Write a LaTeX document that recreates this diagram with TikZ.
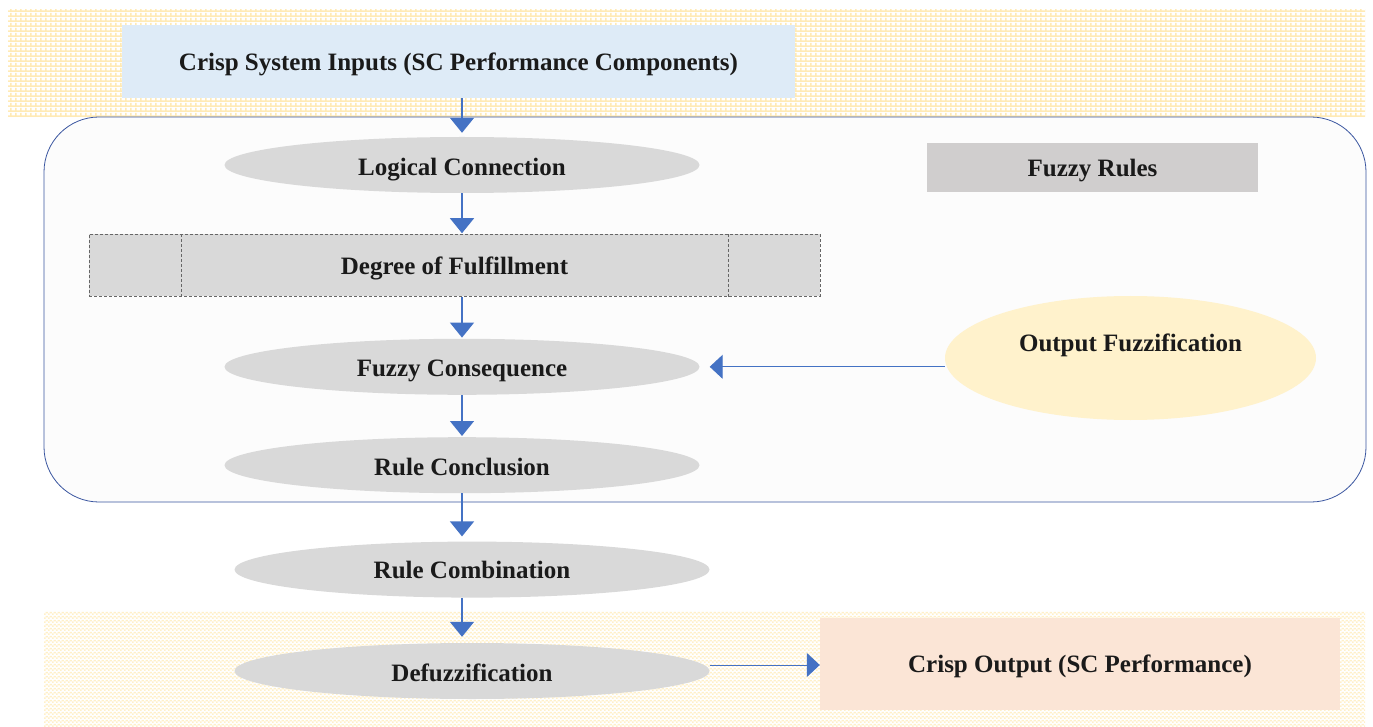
\documentclass[tikz,border=0pt]{standalone}
\usepackage{fontspec}
\setmainfont{Liberation Serif}
\usetikzlibrary{arrows.meta,positioning,calc,shapes.geometric,patterns.meta}
\definecolor{arrowblue}{HTML}{4472C4}
\definecolor{frameblue}{HTML}{3A56A0}
\definecolor{paleblue}{HTML}{DEEBF7}
\definecolor{oval}{HTML}{D9D9D9}
\definecolor{rulegrey}{HTML}{D0CECE}
\definecolor{paleyellow}{HTML}{FFF2CC}
\definecolor{peach}{HTML}{FBE5D6}
\definecolor{gridyellow}{HTML}{FFEAB5}
\definecolor{checkcream}{HTML}{FFF0C8}
\definecolor{framefill}{HTML}{FCFCFC}
\definecolor{ink}{HTML}{1A1A1A}

\tikzdeclarepattern{
  name=yellowgrid,
  type=colored,
  bounding box={(0pt,0pt) and (5pt,5pt)},
  tile size={(5pt,5pt)},
  code={
    \fill[gridyellow] (0pt,0pt) rectangle (5pt,2pt);
    \fill[gridyellow] (0pt,0pt) rectangle (2pt,5pt);
  }
}
\tikzdeclarepattern{
  name=creamcheck,
  type=colored,
  bounding box={(0pt,0pt) and (4pt,4pt)},
  tile size={(4pt,4pt)},
  code={
    \fill[checkcream] (0pt,0pt) rectangle (2pt,2pt);
    \fill[checkcream] (2pt,2pt) rectangle (4pt,4pt);
  }
}

\begin{document}
\begin{tikzpicture}[
  x=1pt,y=-1pt,
  every node/.style={font=\bfseries\fontsize{25}{29}\selectfont,text=ink,
              align=center,text depth=0pt},
  greyoval/.style={ellipse,fill=oval,inner sep=0pt,
              minimum width=475pt,minimum height=56pt},
  bluebox/.style={fill=paleblue,minimum width=673pt,minimum height=73pt},
  rulesbox/.style={fill=rulegrey,minimum width=331pt,minimum height=49pt},
  degreebox/.style={draw=black!60,densely dashed,thin,fill=oval,
              minimum width=731pt,minimum height=62pt},
  yellowoval/.style={ellipse,fill=paleyellow,inner sep=0pt,
              minimum width=371pt,minimum height=124pt},
  peachbox/.style={fill=peach,minimum width=520pt,minimum height=92pt},
  arr/.style={-{Triangle[length=15pt,width=24pt]},line width=1.4pt,arrowblue},
  thinarr/.style={-{Triangle[length=13pt,width=24pt]},line width=1pt,arrowblue}
]
\useasboundingbox (0,0) rectangle (1373,727);
\fill[white] (0,0) rectangle (1373,727);
% bands
\fill[white] (8,10) rectangle (1365,117);
\fill[pattern=yellowgrid] (8,10) rectangle (1365,117);
\fill[white] (44,611) rectangle (1365,727);
\fill[pattern=creamcheck] (44,611) rectangle (1365,727);
% rule block frame
\draw[frameblue,line width=0.8pt,fill=framefill,rounded corners=55pt] (44,117) rectangle (1366,502);

\node[bluebox] (inputs) at (458.5,61.5) {Crisp System Inputs (SC Performance Components)};
\node[greyoval] (logic) at (462,165) {\raisebox{-3pt}{Logical Connection}};
\node[rulesbox] (rules) at (1092.5,167.5) {Fuzzy Rules};
\node[degreebox,below=41pt of logic,xshift=-7.5pt] (degree) {Degree of Fulfillment};
\draw[black!60,densely dashed,thin] ([xshift=92pt]degree.north west) -- ([xshift=92pt]degree.south west);
\draw[black!60,densely dashed,thin] ([xshift=-92pt]degree.north east) -- ([xshift=-92pt]degree.south east);
\node[greyoval,below=42pt of degree,xshift=7.5pt] (conseq) {\raisebox{-3pt}{Fuzzy Consequence}};
\node[greyoval,below=42pt of conseq] (concl) {\raisebox{-3pt}{Rule Conclusion}};
\node[greyoval,below=48pt of concl,xshift=10pt] (comb) {Rule Combination};
\node[greyoval,below=45pt of comb] (defuz) {\raisebox{-3pt}{Defuzzification}};
\node[yellowoval] (outfuz) at (1130.5,358) {\raisebox{30pt}{Output Fuzzification}};
\node[peachbox] (output) at (1080,664) {Crisp Output (SC Performance)};

\draw[arr,shorten >=4pt] (inputs.south -| logic.north) -- (logic.north);
\draw[arr,shorten >=1pt] (logic.south) -- (logic.south |- degree.north);
\draw[arr,shorten >=1pt] (logic.south |- degree.south) -- (conseq.north);
\draw[arr,shorten >=1pt] (conseq.south) -- (concl.north);
\draw[arr,shorten >=5pt] (concl.south) -- (concl.south |- comb.north);
\draw[arr,shorten >=6pt] (comb.south -| concl.south) -- (defuz.north -| concl.south);
\draw[thinarr,shorten >=10pt] (outfuz.west |- conseq.east) -- (conseq.east);
\draw[thinarr] ([yshift=6pt]defuz.east) -- ([yshift=6pt]defuz.east -| output.west);
\end{tikzpicture}
\end{document}
